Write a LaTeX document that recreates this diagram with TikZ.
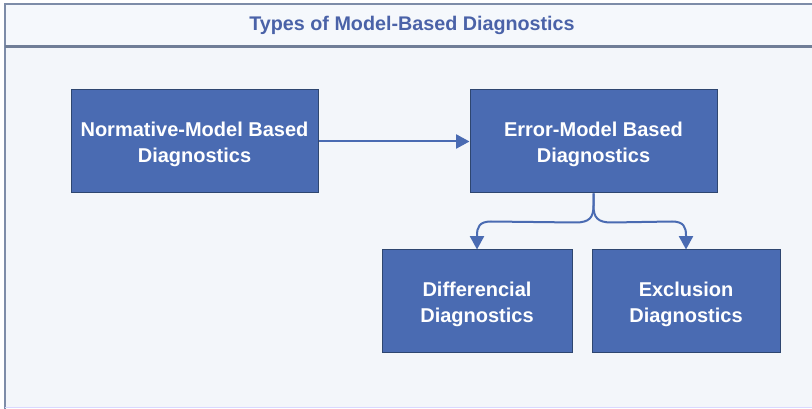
\documentclass[tikz,border=0pt]{standalone}
\usepackage{fontspec}
\setmainfont{Liberation Sans}
\usetikzlibrary{arrows.meta,calc}
\definecolor{boxfill}{HTML}{4A6BB2}
\definecolor{boxline}{HTML}{2E4670}
\definecolor{titlecol}{HTML}{4A62A8}
\definecolor{framecol}{HTML}{7D8CA8}
\definecolor{bgcol}{HTML}{F3F6FA}
\definecolor{titlebg}{HTML}{F5F8FC}
\tikzset{
  diagbox/.style={draw=boxline, line width=0.75pt, fill=boxfill, inner sep=0pt},
  boxtext/.style={text=white, font=\fontsize{15}{19.5}\selectfont\bfseries, align=center, inner sep=0pt, yshift=-2.5pt},
  conn/.style={draw=boxfill, line width=1.5pt, -{Triangle[length=10pt,width=10.5pt]}},
}
\begin{document}
\begin{tikzpicture}[x=0.75pt,y=-0.75pt]
\useasboundingbox (0,0) rectangle (812,409);
\fill[white] (0,0) rectangle (812,409);
\fill[titlebg] (5,4) rectangle (812,47);
\fill[bgcol] (5,47) rectangle (812,407);
\draw[framecol, line width=1.5pt] (5,409) -- (5,4) -- (812,4);
\draw[framecol!90!black, line width=2.25pt] (5,47) -- (812,47);
\draw[blue!15, line width=1pt] (5,407.5) -- (812,407.5);
\node[text=titlecol, font=\fontsize{14.8}{18}\selectfont\bfseries] (title) at (412,25) {Types of Model-Based Diagnostics};
\node[diagbox, minimum width=185.25pt, minimum height=77.25pt] (n) at (194.5,141.5) {};
\node[diagbox, minimum width=185.25pt, minimum height=77.25pt] (e) at (593.5,141.5) {};
\node[diagbox, minimum width=142.5pt, minimum height=76.5pt] (d) at (477,301) {};
\node[diagbox, minimum width=141pt, minimum height=76.5pt] (x) at (686,301) {};
\node[boxtext] (nt) at (n.center) {Normative-Model Based\\Diagnostics};
\node[boxtext] (et) at (e.center) {Error-Model Based\\Diagnostics};
\node[boxtext] (dt) at (d.center) {Differencial\\Diagnostics};
\node[boxtext] (xt) at (x.center) {Exclusion\\Diagnostics};
\draw[conn] (n.east) -- (e.west);
\draw[conn] (e.south) -- ++(0,12) .. controls +(0,12) and +(14,0) .. ($(e.south)+(-18,29)$) -- ($(d.north)+(14,-28)$) .. controls +(-12,0) and +(0,-8) .. ($(d.north)+(0,-14)$) -- (d.north);
\draw[conn] (e.south) -- ++(0,12) .. controls +(0,12) and +(-14,0) .. ($(e.south)+(18,29)$) -- ($(x.north)+(-14,-28)$) .. controls +(12,0) and +(0,-8) .. ($(x.north)+(0,-14)$) -- (x.north);
\end{tikzpicture}
\end{document}
